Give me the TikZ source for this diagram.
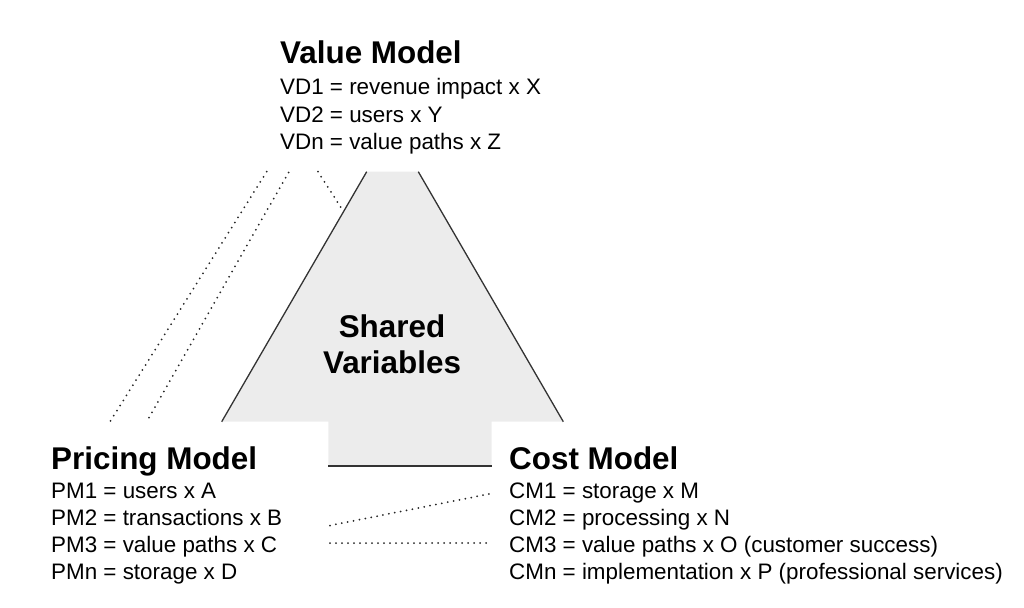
\documentclass[tikz,border=0pt]{standalone}
\usepackage{fontspec}
\setmainfont{Liberation Sans}
\begin{document}
\begin{tikzpicture}[x=1pt,y=-1pt,
  title/.style={anchor=base west,inner sep=0pt,font=\fontsize{31.4}{36}\selectfont\bfseries},
  body/.style={anchor=base west,inner sep=0pt,font=\fontsize{22.4}{27}\selectfont},
  edge/.style={draw=black!80,line width=1.3pt},
  dotline/.style={draw=black!85,line width=2pt,line cap=round,dash pattern=on 0pt off 6pt},
  shade/.style={fill=black!7.5}]
\useasboundingbox (0,0) rectangle (1024,607);
% shared variables shape
\coordinate (tl) at (366.7,171.7);
\coordinate (tr) at (418.3,171.7);
\coordinate (br) at (563.3,421.7);
\coordinate (bl) at (221.7,421.7);
\coordinate (rl) at (328.3,421.7);
\coordinate (rr) at (491.7,421.7);
\coordinate (rbl) at (328.3,466);
\coordinate (rbr) at (491.7,466);
\path[shade] (tl) -- (tr) -- (br) -- (rr) -- (rbr) -- (rbl) -- (rl) -- (bl) -- cycle;
\draw[edge] (tl) -- (bl);
\draw[edge] (tr) -- (br);
\draw[edge] (rbl) -- (rbr);
\node[anchor=base,inner sep=0pt,font=\fontsize{31.4}{36}\selectfont\bfseries] (sv1) at (392,337) {Shared};
\node[anchor=base,inner sep=0pt,font=\fontsize{31.4}{36}\selectfont\bfseries] (sv2) at (392,373) {Variables};
% Value model
\node[title] (vm) at (280,64) {Value Model};
\node[body] (vd1) at (280,95) {VD1 = revenue impact x X};
\node[body] (vd2) at (280,122) {VD2 = users x Y};
\node[body] (vdn) at (280,149) {VDn = value paths x Z};
% Pricing model
\node[title] (pm) at (51,469) {Pricing Model};
\node[body] (pm1) at (51,498) {PM1 = users x A};
\node[body] (pm2) at (51,525) {PM2 = transactions x B};
\node[body] (pm3) at (51,552) {PM3 = value paths x C};
\node[body] (pmn) at (51,579) {PMn = storage x D};
% Cost model
\node[title] (cm) at (509,469) {Cost Model};
\node[body] (cm1) at (509,498) {CM1 = storage x M};
\node[body] (cm2) at (509,525) {CM2 = processing x N};
\node[body] (cm3) at (509,552) {CM3 = value paths x O (customer success)};
\node[body] (cmn) at (509,579) {CMn = implementation x P (professional services)};
% dotted links
\coordinate (a1) at (266.7,171.7);
\coordinate (a2) at (110,421.7);
\coordinate (b1) at (288.5,172.5);
\coordinate (b2) at (148.3,419);
\coordinate (c1) at (318,171.7);
\coordinate (c2) at (341,207.5);
\coordinate (d1) at (330,525.5);
\coordinate (d2) at (494,493);
\coordinate (e1) at (330,543);
\coordinate (e2) at (490,543);
\draw[dotline] (a1) -- (a2);
\draw[dotline] (b1) -- (b2);
\draw[dotline] (c1) -- (c2);
\draw[dotline] (d1) -- (d2);
\draw[dotline] (e1) -- (e2);
\end{tikzpicture}
\end{document}
